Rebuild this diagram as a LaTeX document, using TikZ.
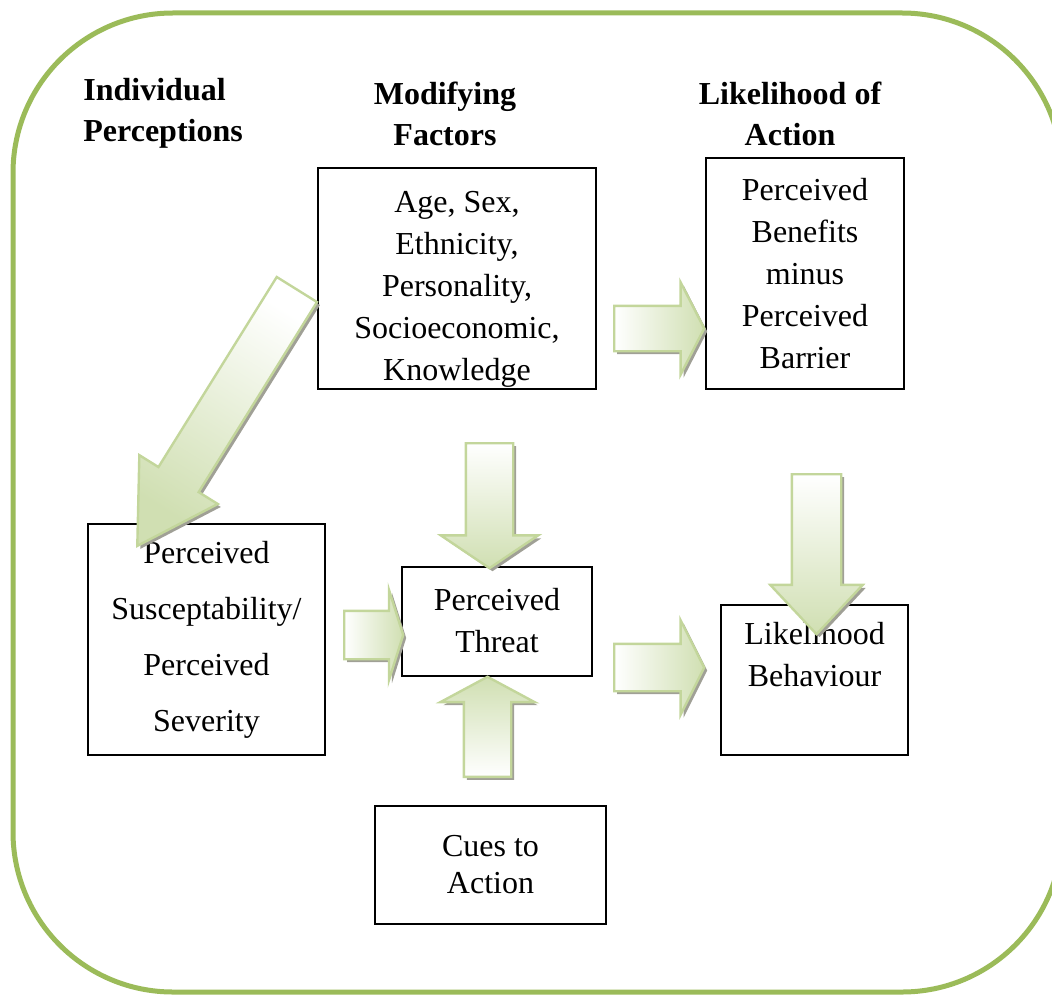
\documentclass[tikz,border=0pt]{standalone}
\usepackage{fontspec}
\setmainfont{Liberation Serif}
\usetikzlibrary{shapes.arrows, shadows, positioning}
\definecolor{framegreen}{RGB}{155,187,89}
\definecolor{arrowedge}{RGB}{195,214,155}
\definecolor{arrowfill}{RGB}{208,223,178}
\definecolor{shadowgray}{RGB}{160,160,150}

\begin{document}
\begin{tikzpicture}[
    x=0.5pt, y=-0.5pt,
    heading/.style={font=\fontsize{16}{20.5}\selectfont\bfseries, inner sep=0pt, align=center},
    box/.style={draw=black, line width=1pt, font=\fontsize{16}{21}\selectfont, inner sep=0pt, align=center},
    % #1 = direction the arrow points to
    blockarrow/.style={single arrow, draw=arrowedge, line width=1.2pt, inner xsep=0pt,
        rotate=#1, shading=axis, top color=white, bottom color=arrowfill, shading angle={#1+90},
        drop shadow={shadow xshift=1.5pt, shadow yshift=-1.5pt, fill=shadowgray, opacity=1}},
    % length, half shaft, head extend, tip angle
    arrowdim/.style n args={4}{minimum height=#1, inner ysep=#2,
        single arrow head extend=#3, single arrow tip angle=#4}
]
\useasboundingbox (0,0) rectangle (1052,994);

% ==================== FRAME ====================
\draw[framegreen, line width=2.5pt, rounded corners=80pt] (13,13) rectangle (1062,992);

% ==================== COLUMN HEADINGS ====================
\node[heading, align=left, anchor=west] (hindiv) at (83,113.5) {Individual\\Perceptions};
\node[heading] (hmodify) at (445,113.5) {Modifying\\Factors};
\node[heading] (haction) at (790,113.5) {Likelihood of\\Action};

% ==================== BOXES ====================
\node[box, minimum width=139pt, minimum height=110.5pt, text height=105pt] (modify) at (457,278.5)
    {Age, Sex,\\Ethnicity,\\Personality,\\Socioeconomic,\\Knowledge};
\node[box, minimum width=99pt, minimum height=115.5pt] (benefit) at (805,273.5)
    {Perceived\\Benefits\\minus\\Perceived\\Barrier};
\node[box, font=\fontsize{16}{28}\selectfont, minimum width=118.5pt, minimum height=115.5pt] (suscept) at (206.5,639.5)
    {Perceived\\Susceptability/\\Perceived\\Severity};
\node[box, minimum width=95pt, minimum height=54.5pt] (threat) at (497,621) {Perceived\\Threat};
\node[box, minimum width=93.5pt, minimum height=75pt, text depth=25.5pt] (behave) at (814.5,680) {Likelihood\\Behaviour};
\node[box, font=\fontsize{16}{18.5}\selectfont, minimum width=115.5pt, minimum height=59pt] (cues) at (490.5,865)
    {Cues to\\Action};

% ==================== BLOCK ARROWS ====================
\node[blockarrow=-121.9, arrowdim={151pt}{11.25pt}{11.25pt}{61.2}, anchor=tail] (toSuscept) at (297.5,288.5) {};
\node[blockarrow=0, arrowdim={45pt}{10.75pt}{11.75pt}{125.8}, anchor=tail] (toBenefit) at (613,328.5) {};
\node[blockarrow=-90, arrowdim={62.5pt}{11.25pt}{12.5pt}{112}, anchor=tail] (modToThreat) at (489.5,442) {};
\node[blockarrow=-90, arrowdim={80pt}{11.75pt}{10.75pt}{86.3}, anchor=tail] (toBehave) at (816.5,473) {};
\node[blockarrow=0, arrowdim={29.5pt}{11.5pt}{10.5pt}{145}, anchor=tail] (susToThreat) at (343,635) {};
\node[blockarrow=0, arrowdim={45pt}{11.25pt}{11.75pt}{126.9}, anchor=tail] (threatToBehave) at (613,667.5) {};
\node[blockarrow=90, arrowdim={50pt}{11.25pt}{11.75pt}{123.5}, anchor=tail] (cuesToThreat) at (487.5,778) {};

\end{tikzpicture}
\end{document}
